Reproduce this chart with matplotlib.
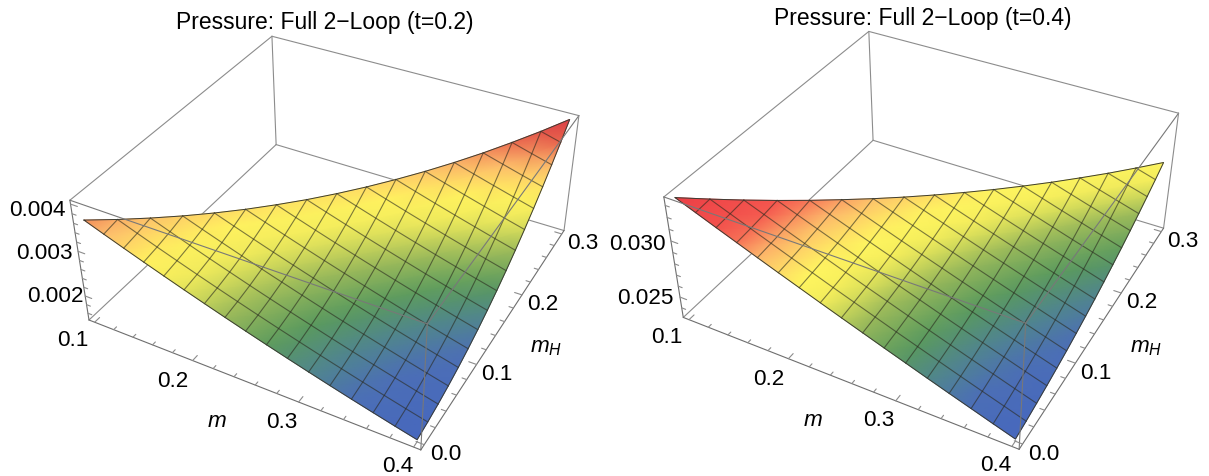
"""Two Mathematica-style pressure surfaces, drawn on a pixel-sized 2D axes through a fitted camera."""
import numpy as np
import matplotlib; matplotlib.use("Agg")
import matplotlib.pyplot as plt
from matplotlib.colors import LinearSegmentedColormap
from matplotlib.tri import Triangulation

plt.rcParams["font.family"] = ["Liberation Sans", "DejaVu Sans"]
plt.rcParams["mathtext.fontset"] = "custom"
plt.rcParams["mathtext.it"] = "Liberation Sans:italic"
plt.rcParams["mathtext.rm"] = "Liberation Sans"

N = 16
M_GRID = np.linspace(0.1, 0.4, N + 1)
MH_GRID = np.linspace(0.0, 0.3, N + 1)
M_TICKS = np.arange(0.10, 0.401, 0.02)
MH_TICKS = np.arange(0.00, 0.301, 0.02)
M_LIM, MH_LIM = (0.094, 0.406), (-0.006, 0.306)

# pressure (units 1e-3), one row per m, entries by mH up to m - 0.1
P1_ROWS = [
    [3.630],
    [3.473, 3.524],
    [3.319, 3.370, 3.436],
    [3.168, 3.218, 3.283, 3.364],
    [3.020, 3.070, 3.134, 3.214, 3.310],
    [2.875, 2.924, 2.988, 3.068, 3.163, 3.273],
    [2.734, 2.782, 2.846, 2.925, 3.019, 3.129, 3.256],
    [2.595, 2.643, 2.705, 2.784, 2.878, 2.987, 3.113, 3.253],
    [2.460, 2.507, 2.569, 2.647, 2.740, 2.849, 2.974, 3.114, 3.270],
    [2.328, 2.374, 2.436, 2.513, 2.606, 2.714, 2.838, 2.978, 3.133, 3.304],
    [2.199, 2.245, 2.306, 2.382, 2.474, 2.582, 2.706, 2.844, 2.999, 3.170, 3.356],
    [2.073, 2.118, 2.178, 2.254, 2.346, 2.453, 2.576, 2.714, 2.868, 3.038, 3.223, 3.424],
    [1.950, 1.995, 2.054, 2.130, 2.220, 2.327, 2.449, 2.587, 2.740, 2.910, 3.094, 3.295, 3.510],
    [1.830, 1.874, 1.933, 2.008, 2.098, 2.203, 2.325, 2.462, 2.615, 2.784, 2.968, 3.168, 3.383, 3.613],
    [1.714, 1.757, 1.816, 1.890, 1.979, 2.084, 2.206, 2.342, 2.494, 2.662, 2.846, 3.045, 3.259, 3.489, 3.736],
    [1.600, 1.643, 1.700, 1.774, 1.863, 1.967, 2.088, 2.223, 2.375, 2.543, 2.725, 2.924, 3.138, 3.367, 3.613, 3.873],
    [1.490, 1.532, 1.589, 1.662, 1.750, 1.854, 1.974, 2.109, 2.260, 2.427, 2.609, 2.807, 3.020, 3.249, 3.494, 3.754, 4.030],
]
P2_ROWS = [
    [33.50],
    [32.82, 32.92],
    [32.14, 32.25, 32.38],
    [31.47, 31.58, 31.72, 31.89],
    [30.80, 30.92, 31.06, 31.24, 31.44],
    [30.14, 30.26, 30.41, 30.59, 30.80, 31.04],
    [29.49, 29.62, 29.77, 29.95, 30.17, 30.41, 30.67],
    [28.84, 28.97, 29.13, 29.32, 29.54, 29.78, 30.05, 30.35],
    [28.20, 28.34, 28.50, 28.69, 28.92, 29.16, 29.44, 29.75, 30.08],
    [27.57, 27.71, 27.88, 28.07, 28.30, 28.55, 28.84, 29.15, 29.48, 29.85],
    [26.94, 27.08, 27.26, 27.46, 27.69, 27.95, 28.24, 28.55, 28.89, 29.26, 29.66],
    [26.32, 26.47, 26.65, 26.85, 27.09, 27.35, 27.64, 27.96, 28.31, 28.68, 29.09, 29.52],
    [25.70, 25.86, 26.04, 26.25, 26.49, 26.76, 27.05, 27.38, 27.73, 28.11, 28.52, 28.96, 29.42],
    [25.09, 25.25, 25.44, 25.66, 25.90, 26.17, 26.47, 26.80, 27.16, 27.54, 27.96, 28.40, 28.87, 29.37],
    [24.49, 24.65, 24.85, 25.07, 25.32, 25.59, 25.90, 26.23, 26.59, 26.98, 27.40, 27.85, 28.32, 28.82, 29.35],
    [23.89, 24.06, 24.26, 24.48, 24.74, 25.02, 25.33, 25.67, 26.03, 26.43, 26.85, 27.30, 27.78, 28.29, 28.82, 29.39],
    [23.30, 23.47, 23.68, 23.91, 24.17, 24.45, 24.77, 25.11, 25.48, 25.88, 26.31, 26.76, 27.25, 27.76, 28.30, 28.86, 29.46],
]

COLORS1 = [(0.0, "#4768BE"), (0.13, "#4C6FB6"), (0.22, "#50858F"), (0.32, "#5A9A5E"),
           (0.44, "#9DBB5A"), (0.50, "#C8D45A"), (0.57, "#F2EC5C"), (0.66, "#FFF25F"),
           (0.78, "#FDBD6C"), (0.90, "#E8604C"), (1.0, "#DA3E45")]
COLORS2 = [(0.0, "#4768BE"), (0.13, "#4C6FB6"), (0.22, "#50858F"), (0.32, "#5A9A5E"),
           (0.44, "#9DBB5A"), (0.50, "#D4DC5A"), (0.55, "#F6EE5C"), (0.62, "#FFF660"),
           (0.73, "#FDBD6C"), (0.83, "#F5574F"), (1.0, "#EC3F46")]
BOX, FRONT, AXISC, MESH = "#8c8c8c", "#787878", "#6e6e6e", "#2a2a1e"

# camera calibration: box corner (u, v, w) -> pixel
CORNERS = [(0, 0, 1), (0, 0, 0), (0, 1, 1), (0, 1, 0), (1, 1, 1), (1, 1, 0), (1, 0, 0), (1, 0, 1)]
M_OFF = [(-22, 17), (-20, 20), (-17, 19), (-16, 18.5)]
MH_OFF = [(21.5, 9), (20.5, 9.5), (20.5, 8.5), (21.5, 8.5)]
PANELS = [
    dict(title="Pressure: Full 2\u2212Loop (t=0.2)", tx=325, ty=23, rows=P1_ROWS, colors=COLORS1,
         zlim=(1.44, 4.08), zticks=np.arange(1.6, 4.01, 0.2), zmajor=[2.0, 3.0, 4.0],
         zoff=[(-30, -1), (-34, 1), (-33, 5)],
         px=[(70, 201), (89, 321), (272, 37), (276, 146), (579, 117), (564, 231), (421, 451), (427, 325)],
         mlab=(217, 422), mhlab=(546, 348)),
    dict(title="Pressure: Full 2\u2212Loop (t=0.4)", tx=922.5, ty=18, rows=P2_ROWS, colors=COLORS2,
         zlim=(23.1, 33.7), zticks=np.arange(24.0, 33.1, 1.0), zmajor=[25.0, 30.0],
         zoff=[(-35, 0), (-34, 3)],
         px=[(664, 198), (683, 318), (869, 32), (873, 142), (1178, 114), (1164, 229), (1019, 450), (1026, 325)],
         mlab=(813, 421), mhlab=(1146, 347)),
]


def fit_camera(px):
    A, b = [], []
    for (u, v, w), (x, y) in zip(CORNERS, px):
        A.append([u, v, w, 1, 0, 0, 0, 0, -u*x, -v*x, -w*x]); b.append(x)
        A.append([0, 0, 0, 0, u, v, w, 1, -u*y, -v*y, -w*y]); b.append(y)
    p = np.linalg.lstsq(np.array(A, float), np.array(b, float), rcond=None)[0]
    return np.append(p, 1).reshape(3, 4)


def project(P, u, v, w):
    u, v, w = [np.atleast_1d(c).astype(float) for c in (u, v, w)]
    h = P @ np.vstack([u, v, w, np.ones_like(u)])
    return h[0] / h[2], h[1] / h[2]


fig = plt.figure(figsize=(12.09, 4.77), dpi=100)
ax = fig.add_axes([0, 0, 1, 1])
ax.set_xlim(0, 1209); ax.set_ylim(477, 0); ax.axis("off")

for pn in PANELS:
    P = fit_camera(pn["px"])
    z0, z1 = pn["zlim"]
    um = lambda m: (np.asarray(m, float) - M_LIM[0]) / (M_LIM[1] - M_LIM[0])
    vm = lambda mh: (np.asarray(mh, float) - MH_LIM[0]) / (MH_LIM[1] - MH_LIM[0])
    wz = lambda z: (np.asarray(z, float) - z0) / (z1 - z0)
    def seg(a, b, zo, color=BOX, lw=0.8):
        xs, ys = project(P, [a[0], b[0]], [a[1], b[1]], [a[2], b[2]])
        ax.plot(xs, ys, color=color, lw=lw, zorder=zo, solid_capstyle="round")

    # hidden box edges behind the surface
    seg((0, 0, 0), (0, 1, 0), 1); seg((0, 1, 0), (1, 1, 0), 1)
    seg((0, 1, 0), (0, 1, 1), 1); seg((0, 1, 1), (0, 0, 1), 1); seg((0, 1, 1), (1, 1, 1), 1)

    idx = {}; ms, mhs, zs = [], [], []
    for i, row in enumerate(pn["rows"]):
        for j, val in enumerate(row):
            idx[(i, j)] = len(ms); ms.append(M_GRID[i]); mhs.append(MH_GRID[j]); zs.append(val)
    tris = []
    for i in range(N):
        for j in range(i + 1):
            tris.append([idx[(i, j)], idx[(i + 1, j)], idx[(i + 1, j + 1)]])
            if j + 1 <= i:
                tris.append([idx[(i, j)], idx[(i + 1, j + 1)], idx[(i, j + 1)]])
    x, y = project(P, um(ms), vm(mhs), wz(zs))
    zs = np.array(zs)
    cmap = LinearSegmentedColormap.from_list("press", pn["colors"], N=512)
    ax.tripcolor(Triangulation(x, y, tris), zs, shading="gouraud", cmap=cmap, zorder=2,
                 vmin=zs.min(), vmax=zs.max())
    # mesh lines along both grid directions
    for i in range(1, N):
        k = [idx[(i, j)] for j in range(i + 1)]
        ax.plot(x[k], y[k], color=MESH, alpha=0.6, lw=0.8, zorder=3)
    for j in range(1, N):
        k = [idx[(i, j)] for i in range(j, N + 1)]
        ax.plot(x[k], y[k], color=MESH, alpha=0.6, lw=0.8, zorder=3)
    edge = [idx[(i, 0)] for i in range(N + 1)] + [idx[(N, j)] for j in range(1, N + 1)] + [idx[(i, i)] for i in range(N - 1, -1, -1)]
    ax.plot(x[edge], y[edge], color="#3c3c34", lw=0.7, zorder=3)

    # front box edges pass over the surface
    seg((0, 0, 1), (1, 0, 1), 4, FRONT); seg((1, 0, 1), (1, 1, 1), 4, FRONT); seg((1, 0, 1), (1, 0, 0), 4, FRONT)
    seg((0, 0, 0), (0, 0, 1), 4, AXISC); seg((1, 1, 0), (1, 1, 1), 4)
    seg((0, 0, 0), (1, 0, 0), 4, AXISC); seg((1, 0, 0), (1, 1, 0), 4, AXISC)

    # ticks and labels
    nm = nh = nz = 0
    for t in M_TICKS:
        major = abs(t * 10 - round(t * 10)) < 1e-6
        u = um(t)
        seg((u, 0, 0), (u, 0.022 if major else 0.013, 0), 4)
        if major:
            xt, yt = project(P, u, 0.0, 0.0)
            dx, dy = M_OFF[nm]; nm += 1
            ax.text(xt[0] + dx, yt[0] + dy, "%.1f" % t, ha="center", va="center", fontsize=16.2, zorder=5)
    for t in MH_TICKS:
        major = abs(t * 10 - round(t * 10)) < 1e-6
        v = vm(t)
        seg((1, v, 0), (0.978 if major else 0.987, v, 0), 4)
        if major:
            xt, yt = project(P, 1.0, v, 0.0)
            dx, dy = MH_OFF[nh]; nh += 1
            ax.text(xt[0] + dx, yt[0] + dy, "%.1f" % t, ha="center", va="center", fontsize=16.2, zorder=5)
    for t in pn["zticks"]:
        major = any(abs(t - q) < 1e-6 for q in pn["zmajor"])
        w = wz(t)
        seg((0, 0, w), (0.022 if major else 0.013, 0, w), 4)
        if major:
            xt, yt = project(P, 0.0, 0.0, w)
            dx, dy = pn["zoff"][nz]; nz += 1
            ax.text(xt[0] + dx, yt[0] + dy, "%.3f" % (t / 1000), ha="center", va="center", fontsize=16.2, zorder=5)
    ax.text(*pn["mlab"], "$m$", ha="center", va="center", fontsize=16.2, zorder=5)
    ax.text(*pn["mhlab"], "$m_H$", ha="center", va="center", fontsize=16.2, zorder=5)
    ax.text(pn["tx"], pn["ty"], pn["title"], ha="center", va="center", fontsize=16.5, zorder=5)

fig.savefig("out.png", dpi=100, facecolor="white")
